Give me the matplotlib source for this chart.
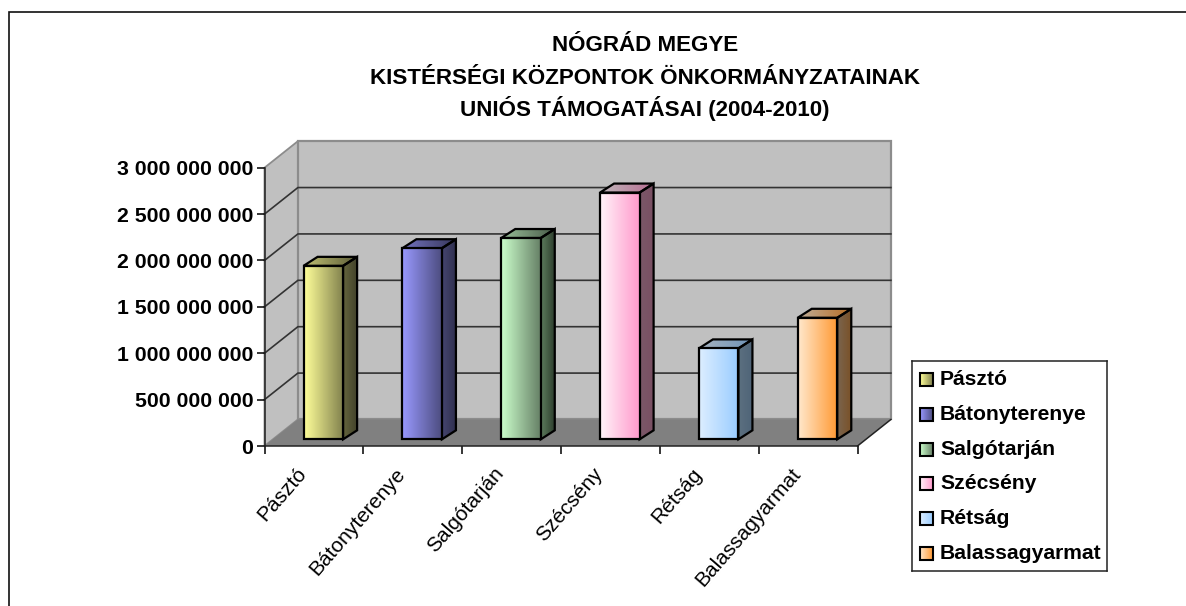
import matplotlib
matplotlib.use('Agg')
import matplotlib.pyplot as plt
import numpy as np
from matplotlib.patches import Polygon, Rectangle

plt.rcParams['font.family'] = ['Liberation Sans', 'DejaVu Sans']

W, H = 1186, 606

title_lines = ["NÓGRÁD MEGYE", "KISTÉRSÉGI KÖZPONTOK ÖNKORMÁNYZATAINAK", "UNIÓS TÁMOGATÁSAI (2004-2010)"]
towns = ["Pásztó", "Bátonyterenye", "Salgótarján", "Szécsény", "Rétság", "Balassagyarmat"]
values = [1.87e9, 2.06e9, 2.17e9, 2.66e9, 0.98e9, 1.31e9]
y_ticks = [0, 5e8, 1e9, 1.5e9, 2e9, 2.5e9, 3e9]
y_labels = ["0", "500 000 000", "1 000 000 000", "1 500 000 000",
            "2 000 000 000", "2 500 000 000", "3 000 000 000"]

# left / right colour of each bar's front face
light = ['#FFFF99', '#9999FF', '#CCFFCC', '#FFF4F9', '#DDEEFF', '#FFE8CC']
dark = ['#80804D', '#4D4D80', '#668066', '#FF99CC', '#99CCFF', '#FF9933']
# left / right colour of the side face
side_l = ['#66663D', '#45456F', '#5C7A5C', '#7A5868', '#5C7080', '#7A6650']
side_r = ['#40402A', '#2E2E4D', '#2A3A2A', '#7A4F63', '#4F6478', '#7A5026']

# fake 3D depth of the chart box, in axis units
depth_x = 0.338
depth_y = 2.86e8
bar_w = 0.4
bar_gap = 0.095
bar_dx = 0.142
bar_dy = 0.97e8
base_dy = 0.72e8


def rgb(c):
    return np.array(matplotlib.colors.to_rgb(c))


def shade(c, f):
    return tuple(rgb(c) * f)


def gradient(ax, verts, c0, c1, lw=1.6, z=3):
    """Fill a polygon with a left to right gradient and outline it."""
    xs = [v[0] for v in verts]
    ys = [v[1] for v in verts]
    t = np.linspace(0, 1, 64)[None, :, None]
    img = rgb(c0)[None, None, :] * (1 - t) + rgb(c1)[None, None, :] * t
    im = ax.imshow(img, extent=(min(xs), max(xs), min(ys), max(ys)), aspect='auto',
                   origin='lower', zorder=z, interpolation='bilinear')
    poly = Polygon(verts, closed=True, fc='none', ec='black', lw=lw, zorder=z + 0.1,
                   joinstyle='miter', clip_on=False)
    ax.add_patch(poly)
    im.set_clip_path(poly)


fig = plt.figure(figsize=(W / 100, H / 100), dpi=100, facecolor='white')
# the outer frame runs off the right and bottom of the picture
fig.add_artist(Rectangle((8.5 / W, -0.05), 1.1, 1.05 - 12.5 / H, transform=fig.transFigure,
                         fc='white', ec='#111111', lw=1.2, zorder=-1))

# axes sits on the front plane of the box
left, right, top, bottom = 264.5, 857.5, 167.7, 446.0
ax = fig.add_axes([left / W, 1 - bottom / H, (right - left) / W, (bottom - top) / H])
ax.patch.set_alpha(0)
for name in ['top', 'right']:
    ax.spines[name].set_visible(False)
for name in ['left', 'bottom']:
    ax.spines[name].set_color('#222222')
    ax.spines[name].set_linewidth(1.1)
    ax.spines[name].set_zorder(2)

n = len(towns)
ymax = y_ticks[-1]
# walls and floor
ax.add_patch(Polygon([(0, 0), (depth_x, depth_y), (depth_x, ymax + depth_y), (0, ymax)],
                     fc='#C0C0C0', ec='#8C8C8C', lw=1.3, clip_on=False, zorder=1))
ax.add_patch(Polygon([(depth_x, depth_y), (n + depth_x, depth_y), (n + depth_x, ymax + depth_y),
                      (depth_x, ymax + depth_y)],
                     fc='#C0C0C0', ec='#8C8C8C', lw=1.6, clip_on=False, zorder=1))
ax.add_patch(Polygon([(0, 0), (n, 0), (n + depth_x, depth_y), (depth_x, depth_y)],
                     fc='#808080', ec='none', clip_on=False, zorder=1.2))
for v in y_ticks[1:-1]:
    ax.plot([0, depth_x, n + depth_x], [v, v + depth_y, v + depth_y], color='#333333', lw=1.2,
            clip_on=False, zorder=1.5)
ax.plot([n, n + depth_x], [0, depth_y], color='#222222', lw=1.1, clip_on=False, zorder=1.6)

# bars
for i, v in enumerate(values):
    x0 = i + 0.5 - bar_w / 2 + bar_gap
    x1 = x0 + bar_w
    y0 = base_dy
    y1 = base_dy + v
    gradient(ax, [(x1, y0), (x1 + bar_dx, y0 + bar_dy), (x1 + bar_dx, y1 + bar_dy), (x1, y1)],
             side_l[i], side_r[i])
    gradient(ax, [(x0, y1), (x1, y1), (x1 + bar_dx, y1 + bar_dy), (x0 + bar_dx, y1 + bar_dy)],
             shade(light[i], 0.75), shade(dark[i], 0.72))
    gradient(ax, [(x0, y0), (x1, y0), (x1, y1), (x0, y1)], light[i], dark[i], z=4)
ax.set_xlim(0, n)
ax.set_ylim(0, ymax)

ax.set_yticks(y_ticks)
ax.set_yticklabels(y_labels, fontsize=15.3, fontweight='bold')
ax.set_xticks(range(n + 1))
ax.set_xticklabels([])
ax.tick_params(axis='y', length=6, width=1.1, pad=2)
ax.tick_params(axis='x', length=6, width=1.1)
for i, name in enumerate(towns):
    ax.annotate(name, xy=(i + 0.5, 0), xytext=(-13, -13), textcoords='offset points',
                rotation=49, ha='right', va='top', rotation_mode='anchor', fontsize=15)

for line, yb in zip(title_lines, [51, 84, 116]):
    fig.text(645 / W, 1 - yb / H, line, ha='center', va='baseline', fontsize=16.1, fontweight='bold')

# legend box
lax = fig.add_axes([911.7 / W, 1 - 570.7 / H, (1107 - 911.7) / W, (570.7 - 360.7) / H])
lax.set_xticks([])
lax.set_yticks([])
for s in lax.spines.values():
    s.set_color('#222222')
    s.set_linewidth(1.1)
for i, name in enumerate(towns):
    yc = 379.5 + i * 34.8
    gradient(lax, [(920, yc - 6.5), (933, yc - 6.5), (933, yc + 6.5), (920, yc + 6.5)],
             light[i], dark[i], lw=1.5)
    lax.text(940, yc, name, fontsize=15.2, fontweight='bold', va='center', ha='left')
lax.set_xlim(911.7, 1107)
lax.set_ylim(570.7, 360.7)

fig.savefig('out.png', dpi=100)
